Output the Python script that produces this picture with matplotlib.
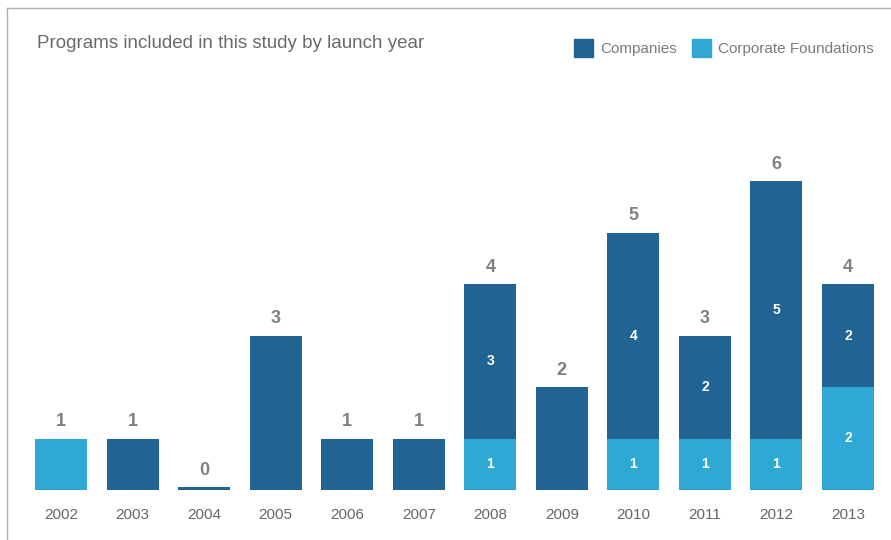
import numpy as np
import matplotlib
matplotlib.use('Agg')
import matplotlib.pyplot as plt
from matplotlib.lines import Line2D
from matplotlib.patches import Patch

plt.rcParams['font.family'] = ['Liberation Sans', 'DejaVu Sans']

years = ['2002', '2003', '2004', '2005', '2006', '2007', '2008', '2009', '2010', '2011', '2012', '2013']
companies = np.array([0, 1, 0, 3, 1, 1, 3, 2, 4, 2, 5, 2])
foundations = np.array([1, 0, 0, 0, 0, 0, 1, 0, 1, 1, 1, 2])
totals = companies + foundations

dark = '#216393'
light = '#30a8d6'

W, H = 891, 540
fig = plt.figure(figsize=(W / 100, H / 100), dpi=100)
# axes placed in pixels: baseline at y=490, 51.5 px per unit
ax = fig.add_axes([25.25 / W, 50 / H, 858.5 / W, 412 / H])

x = np.arange(len(years))
bw = 0.727
ax.bar(x, foundations, bw, color=light, zorder=2)
ax.bar(x, companies, bw, bottom=foundations, color=dark, zorder=2)
# zero years still get a thin stub
stub = np.where(totals == 0, 0.06, 0)
ax.bar(x, stub, bw, color=dark, zorder=2)

for i in range(len(years)):
    top = max(totals[i], stub[i])
    ax.annotate(str(totals[i]), (x[i], top), xytext=(0, 6), textcoords='offset points',
                ha='center', va='bottom', fontsize=13, fontweight='bold', color='#808080')
    if companies[i] > 0 and foundations[i] > 0:
        ax.text(x[i], foundations[i] + companies[i] / 2, str(companies[i]), ha='center', va='center',
                fontsize=10, fontweight='bold', color='white')
        ax.text(x[i], foundations[i] / 2, str(foundations[i]), ha='center', va='center',
                fontsize=10, fontweight='bold', color='white')

ax.set_xlim(-0.5, len(years) - 0.5)
ax.set_ylim(0, 8)
ax.set_xticks(x)
ax.set_xticklabels(years, fontsize=11, color='#666666')
ax.tick_params(axis='x', length=0, pad=13)
ax.set_yticks([])
for s in ax.spines.values():
    s.set_visible(False)

fig.text(37 / W, 1 - 44 / H, 'Programs included in this study by launch year', fontsize=13.5,
         color='#6a6a6a', va='center', ha='left')

handles = [Patch(color=dark, label='Companies'), Patch(color=light, label='Corporate Foundations')]
fig.legend(handles=handles, loc='center right', bbox_to_anchor=(1 - 11 / W, 1 - 48 / H), ncol=2,
           frameon=False, fontsize=11, labelcolor='#7a7a7a', handlelength=1.2, handleheight=1.45,
           handletextpad=0.5, columnspacing=1.0, borderaxespad=0)

# thin frame on top and left
fig.add_artist(Line2D([7 / W, 1], [1 - 8 / H, 1 - 8 / H], color='#b0b0b0', lw=1))
fig.add_artist(Line2D([7 / W, 7 / W], [0, 1 - 8 / H], color='#b0b0b0', lw=1))

fig.savefig('out.png', dpi=100)
